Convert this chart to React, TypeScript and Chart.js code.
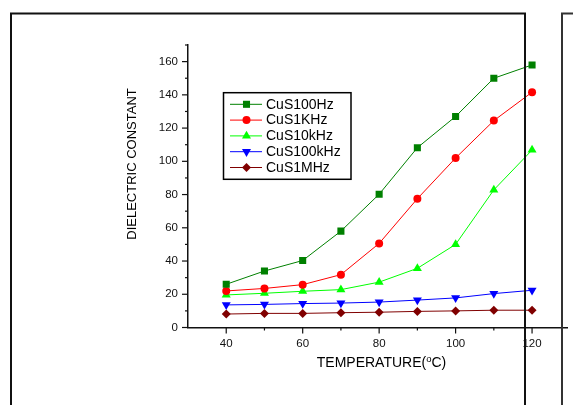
import React, { useEffect, useRef } from 'react';
import { Chart, registerables } from 'chart.js';

Chart.register(...registerables);

// ---- data ----
const temperatures = [40, 50, 60, 70, 80, 90, 100, 110, 120];
const cuS100Hz = [26.0, 34.0, 40.3, 58.0, 80.2, 108.2, 127.0, 150.0, 158.0];
const cuS1KHz = [22.0, 23.5, 25.8, 31.8, 50.6, 77.5, 102.0, 124.5, 141.6];
const cuS10kHz = [19.6, 20.6, 21.8, 22.8, 27.3, 35.6, 50.0, 82.8, 106.8];
const cuS100kHz = [13.6, 13.9, 14.4, 14.7, 15.3, 16.5, 17.8, 20.4, 22.4];
const cuS1MHz = [8.1, 8.5, 8.5, 8.9, 9.2, 9.7, 10.0, 10.4, 10.4];

const seriesLabels = ['CuS100Hz', 'CuS1KHz', 'CuS10kHz', 'CuS100kHz', 'CuS1MHz'];
const seriesValues = [cuS100Hz, cuS1KHz, cuS10kHz, cuS100kHz, cuS1MHz];
const seriesColors = ['#008000', '#ff0000', '#00ff00', '#0000ff', '#800000'];
const seriesMarkers = ['square', 'circle', 'triUp', 'triDown', 'diamond'];

const xTickLabels = [40, 60, 80, 100, 120];
const xMinorTicks = [50, 70, 90, 110];
const yTickLabels = [0, 20, 40, 60, 80, 100, 120, 140, 160];
const yMinorTicks = [10, 30, 50, 70, 90, 110, 130, 150, 170];

const xTitle = 'TEMPERATURE(';
const xTitleSup = 'o';
const xTitleEnd = 'C)';
const yTitle = 'DIELECTRIC CONSTANT';

const FONT = '"Liberation Sans", Arial, sans-serif';

const markerToChart: Record<string, { style: string; radius: number; rotation: number }> = {
  square: { style: 'rect', radius: 5, rotation: 0 },
  circle: { style: 'circle', radius: 4, rotation: 0 },
  triUp: { style: 'triangle', radius: 5.2, rotation: 0 },
  triDown: { style: 'triangle', radius: 5.2, rotation: 180 },
  diamond: { style: 'rectRot', radius: 4.5, rotation: 0 },
};

function drawMarker(ctx: CanvasRenderingContext2D, kind: string, x: number, y: number, color: string) {
  const r = markerToChart[kind].radius;
  ctx.save();
  ctx.fillStyle = color;
  ctx.beginPath();
  if (kind === 'square') {
    const s = Math.SQRT1_2 * r;
    ctx.rect(x - s, y - s, 2 * s, 2 * s);
  } else if (kind === 'circle') {
    ctx.arc(x, y, r, 0, Math.PI * 2);
  } else if (kind === 'triUp') {
    ctx.moveTo(x, y - r);
    ctx.lineTo(x + r * 0.866, y + r / 2);
    ctx.lineTo(x - r * 0.866, y + r / 2);
    ctx.closePath();
  } else if (kind === 'triDown') {
    ctx.moveTo(x, y + r);
    ctx.lineTo(x + r * 0.866, y - r / 2);
    ctx.lineTo(x - r * 0.866, y - r / 2);
    ctx.closePath();
  } else {
    ctx.moveTo(x, y - r);
    ctx.lineTo(x + r, y);
    ctx.lineTo(x, y + r);
    ctx.lineTo(x - r, y);
    ctx.closePath();
  }
  ctx.fill();
  ctx.restore();
}

const decorPlugin = {
  id: 'decor',
  afterDatasetsDraw(chart: any) {
    const ctx: CanvasRenderingContext2D = chart.ctx;
    const xs = chart.scales.x;
    const ys = chart.scales.y;
    const area = chart.chartArea;
    ctx.save();
    ctx.strokeStyle = '#111';
    ctx.lineWidth = 1.2;
    // y ticks (outward, left)
    for (const v of yTickLabels) {
      const p = ys.getPixelForValue(v);
      ctx.beginPath();
      ctx.moveTo(area.left - 6, p);
      ctx.lineTo(area.left, p);
      ctx.stroke();
    }
    for (const v of yMinorTicks) {
      const p = ys.getPixelForValue(v);
      ctx.beginPath();
      ctx.moveTo(area.left - 3, p);
      ctx.lineTo(area.left, p);
      ctx.stroke();
    }
    for (const v of xTickLabels) {
      const p = xs.getPixelForValue(v);
      ctx.beginPath();
      ctx.moveTo(p, area.bottom);
      ctx.lineTo(p, area.bottom + 6);
      ctx.stroke();
    }
    for (const v of xMinorTicks) {
      const p = xs.getPixelForValue(v);
      ctx.beginPath();
      ctx.moveTo(p, area.bottom);
      ctx.lineTo(p, area.bottom + 3);
      ctx.stroke();
    }

    // legend
    const lx = 223.5;
    const ly = 92.7;
    ctx.lineWidth = 1.5;
    ctx.strokeStyle = '#000';
    ctx.strokeRect(lx, ly, 127.5, 86.6);
    ctx.font = `14px ${FONT}`;
    ctx.textBaseline = 'middle';
    ctx.textAlign = 'left';
    seriesLabels.forEach((label, i) => {
      const cy = 104.3 + i * 15.8;
      ctx.strokeStyle = seriesColors[i];
      ctx.lineWidth = 1;
      ctx.beginPath();
      ctx.moveTo(230, cy);
      ctx.lineTo(262, cy);
      ctx.stroke();
      drawMarker(ctx, seriesMarkers[i], 246.5, cy, seriesColors[i]);
      ctx.fillStyle = '#000';
      ctx.fillText(label, 266, cy + 0.5);
    });

    // axis titles
    ctx.fillStyle = '#000';
    ctx.font = `13px ${FONT}`;
    ctx.save();
    ctx.translate(132.5, 164);
    ctx.rotate(-Math.PI / 2);
    ctx.textAlign = 'center';
    ctx.textBaseline = 'middle';
    ctx.fillText(yTitle, 0, 0);
    ctx.restore();

    ctx.textBaseline = 'alphabetic';
    ctx.textAlign = 'left';
    ctx.font = `14px ${FONT}`;
    const w1 = ctx.measureText(xTitle).width;
    const w3 = ctx.measureText(xTitleEnd).width;
    ctx.font = `9.5px ${FONT}`;
    const w2 = ctx.measureText(xTitleSup).width;
    const total = w1 + w2 + w3;
    let sx = 381.5 - total / 2;
    const base = 367;
    ctx.font = `14px ${FONT}`;
    ctx.fillText(xTitle, sx, base);
    sx += w1;
    ctx.font = `9.5px ${FONT}`;
    ctx.fillText(xTitleSup, sx, base - 5.5);
    sx += w2;
    ctx.font = `14px ${FONT}`;
    ctx.fillText(xTitleEnd, sx, base);

    // page frames from the scanned figure
    ctx.strokeStyle = '#111';
    ctx.lineWidth = 2;
    ctx.beginPath();
    ctx.moveTo(11, 405);
    ctx.lineTo(11, 13.5);
    ctx.lineTo(525, 13.5);
    ctx.lineTo(525, 405);
    ctx.stroke();
    ctx.strokeStyle = '#333';
    ctx.beginPath();
    ctx.moveTo(562, 405);
    ctx.lineTo(562, 13.5);
    ctx.lineTo(575, 13.5);
    ctx.stroke();
    ctx.restore();
  },
};

export default function App() {
  const canvasRef = useRef<HTMLCanvasElement | null>(null);

  useEffect(() => {
    if (!canvasRef.current) return;
    const chart = new Chart(canvasRef.current, {
      type: 'line',
      data: {
        datasets: seriesLabels.map((label, i) => {
          const m = markerToChart[seriesMarkers[i]];
          return {
            label,
            data: temperatures.map((t, j) => ({ x: t, y: seriesValues[i][j] })),
            borderColor: seriesColors[i],
            backgroundColor: seriesColors[i],
            borderWidth: 1,
            pointStyle: m.style,
            pointRadius: m.radius,
            pointRotation: m.rotation,
            pointBorderWidth: 0,
            pointBackgroundColor: seriesColors[i],
            pointBorderColor: seriesColors[i],
            tension: 0,
            fill: false,
          };
        }),
      },
      options: {
        responsive: false,
        animation: false,
        devicePixelRatio: 1,
        layout: { padding: { top: 45, left: 0, right: 0, bottom: 0 } },
        plugins: {
          legend: { display: false },
          tooltip: { enabled: false },
          title: { display: false },
        },
        scales: {
          x: {
            type: 'linear',
            min: 30,
            max: 129.35,
            grid: { display: false, drawTicks: false },
            border: { display: true, color: '#111', width: 1.5 },
            ticks: {
              color: '#111',
              font: { family: FONT, size: 11.5 },
              padding: 9,
              maxRotation: 0,
              autoSkip: false,
            },
            afterBuildTicks: (s: any) => {
              s.ticks = xTickLabels.map((v) => ({ value: v }));
            },
            afterFit: (s: any) => {
              s.height = 77.5;
            },
          },
          y: {
            type: 'linear',
            min: 0,
            max: 170,
            grid: { display: false, drawTicks: false },
            border: { display: true, color: '#111', width: 1.5 },
            ticks: {
              color: '#111',
              font: { family: FONT, size: 11.5 },
              padding: 10,
            },
            afterBuildTicks: (s: any) => {
              s.ticks = yTickLabels.map((v) => ({ value: v }));
            },
            afterFit: (s: any) => {
              s.width = 188;
            },
          },
        },
      },
      plugins: [decorPlugin],
    });
    return () => chart.destroy();
  }, []);

  return (
    <div style={{ position: 'absolute', left: 0, top: 0, width: 573, height: 405, background: '#fff' }}>
      <canvas ref={canvasRef} width={573} height={405} />
    </div>
  );
}
